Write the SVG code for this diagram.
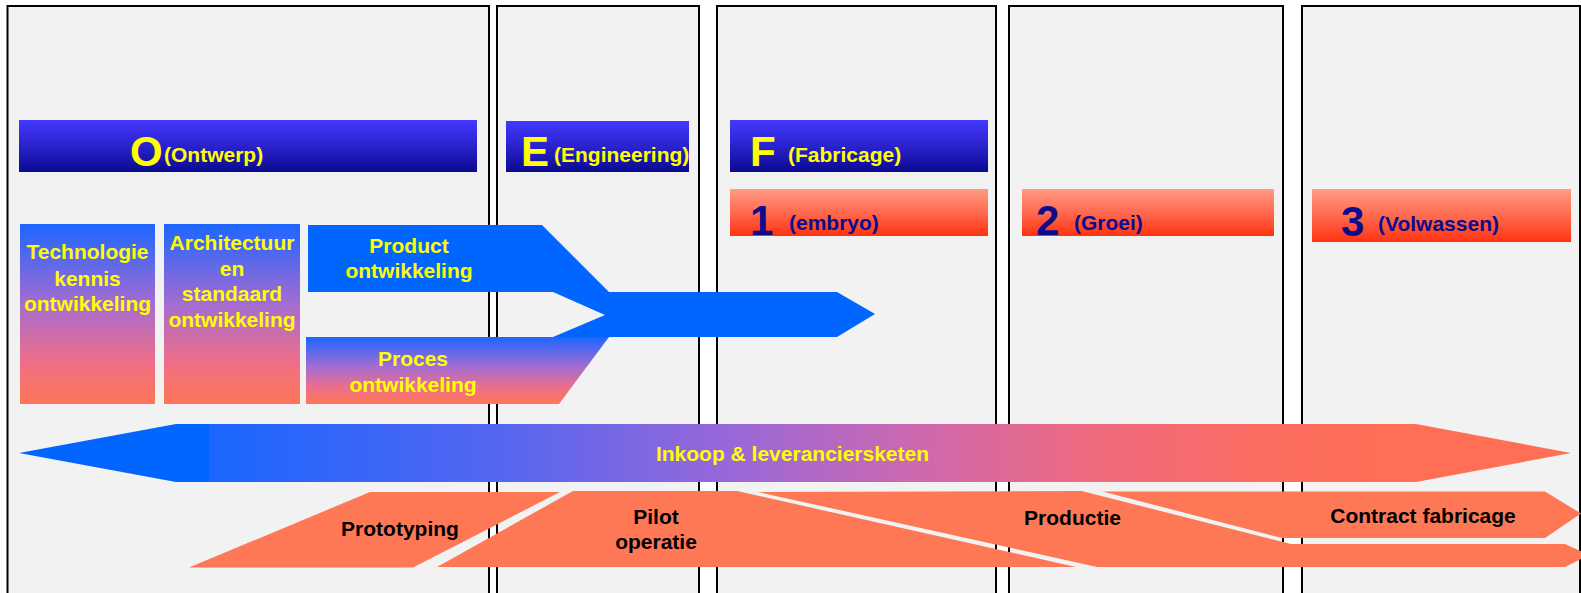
<svg xmlns="http://www.w3.org/2000/svg" width="1581" height="593" viewBox="0 0 1581 593">
<defs>
<linearGradient id="gBlue" x1="0" y1="0" x2="0" y2="1">
<stop offset="0" stop-color="#4538ff"/><stop offset="0.5" stop-color="#2a22cc"/><stop offset="1" stop-color="#0a0a90"/>
</linearGradient>
<linearGradient id="gOrange" x1="0" y1="0" x2="0" y2="1">
<stop offset="0" stop-color="#ff9c84"/><stop offset="0.5" stop-color="#ff6a50"/><stop offset="1" stop-color="#ff3310"/>
</linearGradient>
<linearGradient id="gBox" x1="0" y1="0" x2="0" y2="1">
<stop offset="0" stop-color="#1c66ff"/><stop offset="0.45" stop-color="#a66cd0"/><stop offset="0.75" stop-color="#ec6e8c"/><stop offset="1" stop-color="#ff7755"/>
</linearGradient>
<linearGradient id="gBand" x1="0" y1="0" x2="1" y2="0">
<stop offset="0" stop-color="#1a66ff"/><stop offset="0.25" stop-color="#5566f0"/><stop offset="0.45" stop-color="#9a68d8"/><stop offset="0.6" stop-color="#cc68b0"/><stop offset="0.75" stop-color="#ee6a80"/><stop offset="0.9" stop-color="#fc6c62"/><stop offset="1" stop-color="#ff6e55"/>
</linearGradient>
<clipPath id="clipE"><rect x="506" y="121" width="183" height="51"/></clipPath>
<style>
.col{fill:#f2f2f2;stroke:#000;stroke-width:2}
.t{font-family:"Liberation Sans",Arial,sans-serif;font-weight:bold}
.y{fill:#ffff00}
.n{fill:#0c0c8c}
.k{fill:#000}
.big{font-size:42px}
.s{font-size:21px}
.mid{text-anchor:middle}
.coral{fill:#ff7856}
.blue{fill:#0066ff}
</style>
</defs>
<rect x="0" y="0" width="1581" height="593" fill="#ffffff"/>
<g id="columns">
<rect class="col" x="7.5" y="6" width="481.5" height="600"/>
<rect class="col" x="497" y="6" width="202" height="600"/>
<rect class="col" x="717" y="6" width="279" height="600"/>
<rect class="col" x="1009" y="6" width="274" height="600"/>
<rect class="col" x="1302" y="6" width="278" height="600"/>
</g>
<g id="phase-O">
<rect x="19" y="120" width="458" height="52" fill="url(#gBlue)"/>
<text class="t y big" x="130" y="166">O</text>
<text class="t y s" x="164" y="162">(Ontwerp)</text>
</g>
<g id="phase-E">
<rect x="506" y="121" width="183" height="51" fill="url(#gBlue)"/>
<g clip-path="url(#clipE)">
<text class="t y big" x="521" y="166">E</text>
<text class="t y s" x="554" y="162">(Engineering)</text>
</g>
</g>
<g id="phase-F">
<rect x="730" y="120" width="258" height="52" fill="url(#gBlue)"/>
<text class="t y big" x="750" y="166">F</text>
<text class="t y s" x="788" y="162">(Fabricage)</text>
</g>
<g id="stage-1">
<rect x="730" y="189" width="258" height="47" fill="url(#gOrange)"/>
<text class="t n big" x="750" y="235">1</text>
<text class="t n s" x="789" y="230">(embryo)</text>
</g>
<g id="stage-2">
<rect x="1022" y="189" width="252" height="47" fill="url(#gOrange)"/>
<text class="t n big" x="1036" y="235">2</text>
<text class="t n s" x="1074" y="230">(Groei)</text>
</g>
<g id="stage-3">
<rect x="1312" y="189" width="259" height="53" fill="url(#gOrange)"/>
<text class="t n big" x="1341" y="236">3</text>
<text class="t n s" x="1378" y="231">(Volwassen)</text>
</g>
<g id="technologie">
<rect x="20" y="224" width="135" height="180" fill="url(#gBox)"/>
<text class="t y s mid" x="87.5" y="259">Technologie</text>
<text class="t y s mid" x="87.5" y="285.5">kennis</text>
<text class="t y s mid" x="87.5" y="311">ontwikkeling</text>
</g>
<g id="architectuur">
<rect x="164" y="224" width="136" height="180" fill="url(#gBox)"/>
<text class="t y s mid" x="232" y="250">Architectuur</text>
<text class="t y s mid" x="232" y="275.5">en</text>
<text class="t y s mid" x="232" y="301">standaard</text>
<text class="t y s mid" x="232" y="326.5">ontwikkeling</text>
</g>
<g id="connectors">
<polygon class="blue" points="308,225 542,225 609,292 837,292 875,314 837,337 553,337 605,315 553,292 308,292"/>
</g>
<g id="product">
<text class="t y s mid" x="409" y="253">Product</text>
<text class="t y s mid" x="409" y="278">ontwikkeling</text>
</g>
<g id="proces">
<polygon points="306,337 609,337 559,404 306,404" fill="url(#gBox)"/>
<text class="t y s mid" x="413" y="365.5">Proces</text>
<text class="t y s mid" x="413" y="391.5">ontwikkeling</text>
</g>
<g id="inkoop">
<polygon class="blue" points="19,453 176,424 210,424 210,482 176,482"/>
<rect x="209" y="424" width="1170" height="58" fill="url(#gBand)"/>
<polygon points="1378,424 1416,424 1571,453 1416,482 1378,482" fill="#ff6e55"/>
<text class="t y s mid" x="792.5" y="461">Inkoop &amp; leveranciersketen</text>
</g>
<g id="prototyping">
<polygon class="coral" points="189,567.5 370,492 560,492 413,567.5"/>
<text class="t k s mid" x="400" y="536">Prototyping</text>
</g>
<g id="pilot">
<polygon class="coral" points="437,567 573,491 737,491 1076,567"/>
<text class="t k s mid" x="656" y="524">Pilot</text>
<text class="t k s mid" x="656" y="548.5">operatie</text>
</g>
<g id="productie">
<polygon class="coral" points="758,492 1081.5,491 1291,544 1565,544 1589,555 1565,567 1097,567"/>
<text class="t k s mid" x="1072.5" y="525">Productie</text>
</g>
<g id="contract">
<polygon class="coral" points="1102.5,491.5 1545,491.5 1581,513.5 1545,538 1282,538"/>
<text class="t k s mid" x="1423" y="523">Contract fabricage</text>
</g>
</svg>
